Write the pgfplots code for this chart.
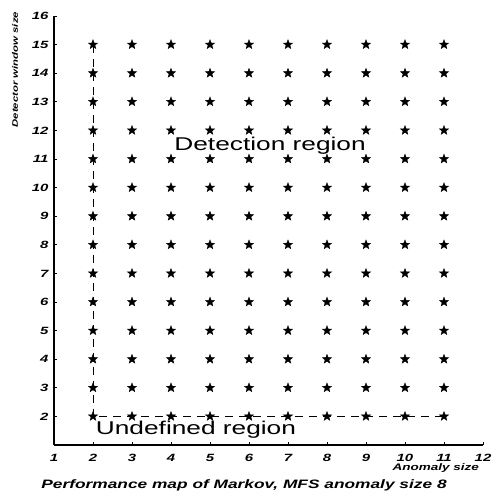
\documentclass[border=0pt]{standalone}
\usepackage{fontspec}
\setmainfont{Liberation Sans}[FakeStretch=1.42]
\usepackage{pgfplots}
\pgfplotsset{compat=1.18}
\pgfdeclareplotmark{fstar}{%
  \pgfpathmoveto{\pgfpointpolar{90}{\pgfplotmarksize}}%
  \pgfpathlineto{\pgfpointpolar{126}{0.42\pgfplotmarksize}}%
  \pgfpathlineto{\pgfpointpolar{162}{\pgfplotmarksize}}%
  \pgfpathlineto{\pgfpointpolar{198}{0.42\pgfplotmarksize}}%
  \pgfpathlineto{\pgfpointpolar{234}{\pgfplotmarksize}}%
  \pgfpathlineto{\pgfpointpolar{270}{0.42\pgfplotmarksize}}%
  \pgfpathlineto{\pgfpointpolar{306}{\pgfplotmarksize}}%
  \pgfpathlineto{\pgfpointpolar{342}{0.42\pgfplotmarksize}}%
  \pgfpathlineto{\pgfpointpolar{18}{\pgfplotmarksize}}%
  \pgfpathlineto{\pgfpointpolar{54}{0.42\pgfplotmarksize}}%
  \pgfpathclose
  \pgfusepathqfillstroke}
\begin{document}
\begin{tikzpicture}
\useasboundingbox (-54pt,-47pt) rectangle (439pt,445pt);
\begin{axis}[
  at={(0,0)}, anchor=south west,
  scale only axis, width=429pt, height=429pt,
  xmin=1, xmax=12, ymin=1, ymax=16,
  xtick={1,2,3,4,5,6,7,8,9,10,11,12},
  xticklabels={1,2,3,4,5,6,7,8,9,10,11,12},
  ytick={2,3,4,5,6,7,8,9,10,11,12,13,14,15,16},
  yticklabels={2,3,4,5,6,7,8,9,10,11,12,13,14,15,16},
  axis x line=bottom, axis y line=left,
  axis line style={-, line width=1.1pt},
  tick align=inside, major tick length=3pt,
  tick style={black, line width=0.8pt},
  ticklabel style={font=\bfseries\itshape\fontsize{10.5}{12}\selectfont},
  xticklabel style={yshift=-6pt},
  yticklabel style={xshift=-2pt},
  clip=false,
]
\addplot[black, line width=0.9pt, dash pattern=on 8pt off 6pt] coordinates {(2,15) (2,2) (11,2)};
\addplot[only marks, mark=fstar, mark size=4.8pt, mark options={fill=black, draw=black, line width=0.4pt}] coordinates {
(2,2)(3,2)(4,2)(5,2)(6,2)(7,2)(8,2)(9,2)(10,2)(11,2)
(2,3)(3,3)(4,3)(5,3)(6,3)(7,3)(8,3)(9,3)(10,3)(11,3)
(2,4)(3,4)(4,4)(5,4)(6,4)(7,4)(8,4)(9,4)(10,4)(11,4)
(2,5)(3,5)(4,5)(5,5)(6,5)(7,5)(8,5)(9,5)(10,5)(11,5)
(2,6)(3,6)(4,6)(5,6)(6,6)(7,6)(8,6)(9,6)(10,6)(11,6)
(2,7)(3,7)(4,7)(5,7)(6,7)(7,7)(8,7)(9,7)(10,7)(11,7)
(2,8)(3,8)(4,8)(5,8)(6,8)(7,8)(8,8)(9,8)(10,8)(11,8)
(2,9)(3,9)(4,9)(5,9)(6,9)(7,9)(8,9)(9,9)(10,9)(11,9)
(2,10)(3,10)(4,10)(5,10)(6,10)(7,10)(8,10)(9,10)(10,10)(11,10)
(2,11)(3,11)(4,11)(5,11)(6,11)(7,11)(8,11)(9,11)(10,11)(11,11)
(2,12)(3,12)(4,12)(5,12)(6,12)(7,12)(8,12)(9,12)(10,12)(11,12)
(2,13)(3,13)(4,13)(5,13)(6,13)(7,13)(8,13)(9,13)(10,13)(11,13)
(2,14)(3,14)(4,14)(5,14)(6,14)(7,14)(8,14)(9,14)(10,14)(11,14)
(2,15)(3,15)(4,15)(5,15)(6,15)(7,15)(8,15)(9,15)(10,15)(11,15)
};
\node[font=\fontsize{18.5}{22}\selectfont] at (axis cs:6.54,11.47) {Detection region};
\node[font=\fontsize{18.5}{22}\selectfont] at (axis cs:4.64,1.52) {Undefined region};
\node[font=\bfseries\itshape\fontsize{8}{10}\selectfont, rotate=90] at (axis description cs:-0.091,0.875) {Detector window size};
\node[font=\bfseries\itshape\fontsize{9.5}{11}\selectfont] at (axis description cs:0.89,-0.054) {Anomaly size};
\node[font=\bfseries\itshape\fontsize{12.2}{14}\selectfont] at (axis description cs:0.443,-0.093) {Performance map of Markov, MFS anomaly size 8};
\end{axis}
\end{tikzpicture}
\end{document}
